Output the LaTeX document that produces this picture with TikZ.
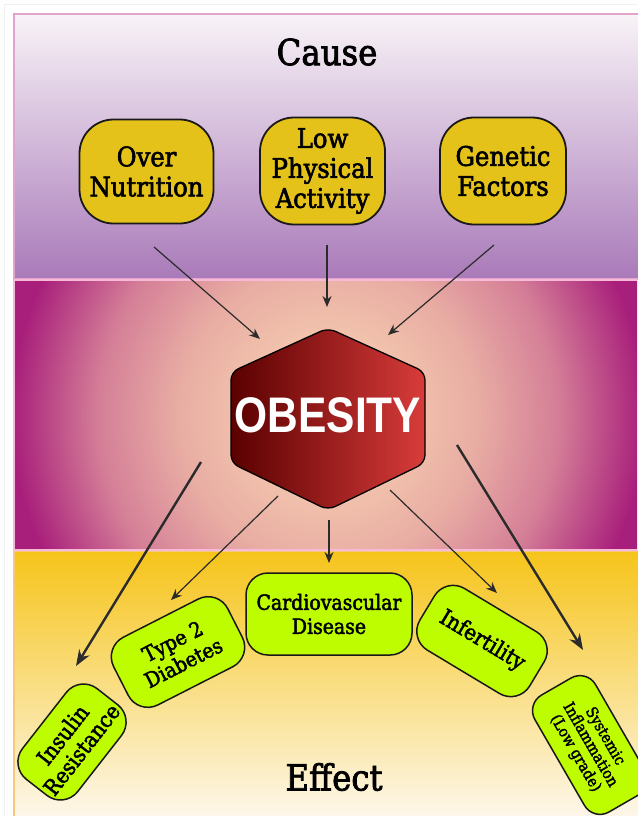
\documentclass[tikz,border=0pt]{standalone}
\usepackage{fontspec}
\setmainfont{DejaVu Serif Condensed}[FakeBold=2.2]
\newfontfamily\obesityfont[FakeStretch=0.85]{Liberation Sans}
\usepackage{tikz}
\usetikzlibrary{arrows.meta,positioning,calc}

\definecolor{causetop}{HTML}{F8F3F7}
\definecolor{causemid}{HTML}{D8C0DB}
\definecolor{causebottom}{HTML}{A97AB9}
\definecolor{glowcore}{HTML}{F2C3AD}
\definecolor{glowmid}{HTML}{E8ACA3}
\definecolor{glowrose}{HTML}{D47E97}
\definecolor{glowedge}{HTML}{A81E7B}
\definecolor{effecttop}{HTML}{F6C41A}
\definecolor{effectmid}{HTML}{F9DC88}
\definecolor{effectbottom}{HTML}{FDF8EE}
\definecolor{causeyellow}{HTML}{E4C21A}
\definecolor{effectlime}{HTML}{BEFC00}
\definecolor{obesdark}{HTML}{5A0000}
\definecolor{obesmid}{HTML}{8E1515}
\definecolor{obesred}{HTML}{D83C3A}
\definecolor{arrowgray}{HTML}{2B2B2B}
\definecolor{bandpink}{HTML}{E2A4CC}
\definecolor{bandlight}{HTML}{F6B9D8}
\definecolor{effectedge}{HTML}{F8C77E}

\pgfdeclareradialshading{glow}{\pgfpoint{0bp}{0bp}}{color(0bp)=(glowcore);
  color(5.5bp)=(glowcore); color(10.5bp)=(glowmid); color(16bp)=(glowrose);
  color(22bp)=(glowedge); color(50bp)=(glowedge)}

\begin{document}
\begin{tikzpicture}[x=1pt,y=-1pt,
  causebox/.style={draw=black!90,line width=1.8pt,fill=causeyellow,rounded corners=34pt,
    align=center,inner sep=0pt,font=\fontsize{27}{30}\selectfont},
  effectbox/.style={draw=black!90,line width=1.5pt,fill=effectlime,rounded corners=22pt,
    align=center,inner sep=0pt,font=\fontsize{21}{24}\selectfont},
  heading/.style={font=\fontsize{36}{40}\selectfont},
  arrow/.style={-{Stealth[length=11pt,width=9pt]},line width=1.2pt,draw=arrowgray},
  bigarrow/.style={-{Stealth[length=16pt,width=12pt]},line width=2.4pt,draw=arrowgray},
]
  \useasboundingbox (0,0) rectangle (637,816);
  \draw[black!6,line width=0.8pt] (4,816) -- (4,4) -- (637,4);

  % bands
  \path[draw=bandpink,line width=1.4pt,top color=causetop,middle color=causemid,
    bottom color=causebottom] (14,14) rectangle (645,279);
  \begin{scope}
    \clip (14,280) rectangle (637,550);
    \shade[shading=glow] (328,415) circle (360);
  \end{scope}
  \path[draw=effectedge,line width=1.4pt,top color=effecttop,middle color=effectmid,
    bottom color=effectbottom] (14,551) rectangle (645,822);
  \draw[bandlight,line width=1.6pt] (14,280) -- (637,280);
  \draw[bandlight,line width=1.6pt] (14,550) -- (637,550);
  \draw[bandlight,line width=1.4pt] (14,280) -- (14,550);

  \node[heading] (cause) at (327,52) {Cause};
  \node[heading] (effect) at (334,777) {Effect};

  % causes
  \node[causebox,minimum width=134pt,minimum height=104pt] (over) at (146.5,171.5)
    {Over\\Nutrition};
  \node[causebox,minimum width=125pt,minimum height=107pt] (low) at (322.5,171)
    {Low\\Physical\\Activity};
  \node[causebox,minimum width=126pt,minimum height=107pt] (genetic) at (503,171)
    {Genetic\\Factors};

  % obesity
  \path[draw=black,line width=1.3pt,rounded corners=8pt,left color=obesdark,
    middle color=obesmid,right color=obesred]
    (328,328) -- (425,372) -- (425,463) -- (328,510) -- (231,463) -- (231,372) -- cycle;
  \node[text=white,font=\obesityfont\bfseries\fontsize{50}{50}\selectfont]
    (obesity) at (328,415) {OBESITY};

  % effects
  \node[effectbox,minimum width=166pt,minimum height=82pt] (cardio) at (329,614)
    {Cardiovascular\\Disease};
  \node[effectbox,rotate=27,minimum width=128pt,minimum height=76pt] (diabetes)
    at (178,652) {Type 2\\Diabetes};
  \node[effectbox,rotate=52,minimum width=115pt,minimum height=70pt,
    font=\fontsize{22}{24}\selectfont] (insulin) at (72,742) {Insulin\\Resistance};
  \node[effectbox,rotate=-31,minimum width=128pt,minimum height=72pt,
    font=\fontsize{22}{24}\selectfont] (infertility) at (482,641) {Infertility};
  \node[effectbox,rotate=-60,minimum width=135pt,minimum height=70pt,rounded corners=18pt,
    font=\fontsize{15.5}{17}\selectfont] (systemic) at (590,745)
    {Systemic\\Inflammation\\(Low grade)};

  % arrow ends
  \coordinate (overtail) at (154,247);
  \coordinate (overtip) at (260,339);
  \coordinate (lowtail) at (327,245);
  \coordinate (lowtip) at (327,307);
  \coordinate (genetictail) at (494,245);
  \coordinate (genetictip) at (388,335);
  \coordinate (insulintail) at (201,462);
  \coordinate (insulintip) at (76,666);
  \coordinate (diabetestail) at (278,496);
  \coordinate (diabetestip) at (171,600);
  \coordinate (cardiotail) at (329,520);
  \coordinate (cardiotip) at (329,563);
  \coordinate (infertilitytail) at (390,490);
  \coordinate (infertilitytip) at (497,593);
  \coordinate (systemictail) at (457,445);
  \coordinate (systemictip) at (583,650);

  \draw[arrow] (overtail) -- (overtip);
  \draw[arrow] (lowtail) -- (lowtip);
  \draw[arrow] (genetictail) -- (genetictip);
  \draw[bigarrow] (insulintail) -- (insulintip);
  \draw[arrow] (diabetestail) -- (diabetestip);
  \draw[arrow] (cardiotail) -- (cardiotip);
  \draw[arrow] (infertilitytail) -- (infertilitytip);
  \draw[bigarrow] (systemictail) -- (systemictip);
\end{tikzpicture}
\end{document}
